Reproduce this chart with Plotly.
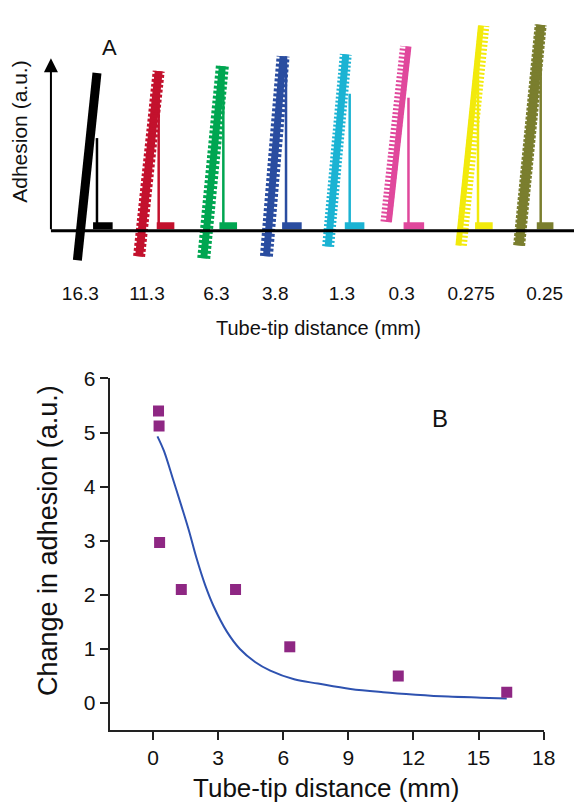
import plotly.graph_objects as go

# ---- panel A: adhesion curves, one per tube-tip distance ----
curve_labels = ['16.3', '11.3', '6.3', '3.8', '1.3', '0.3', '0.275', '0.25']
label_pos = [3.0, 9.8, 16.9, 22.9, 29.7, 35.8, 42.9, 50.4]
curve_colors = ['#000000', '#C3112D', '#00A651', '#2A4DA0',
                '#1BB3D3', '#E0489C', '#F2EA0C', '#7A7E2E']

# approach (contact line), bottom -> top
approach_x0 = [2.7, 9.0, 15.6, 22.0, 28.3, 34.5, 41.6, 47.8]
approach_y0 = [-3.0, -2.6, -2.8, -2.6, -1.6, 0.9, -1.5, -1.5]
approach_x1 = [4.7, 11.0, 17.5, 23.7, 30.1, 36.5, 43.9, 50.0]
approach_y1 = [16.0, 16.2, 16.7, 17.7, 17.9, 18.7, 20.8, 20.9]

# retract: pull-off line and the flat part near zero
retract_x = [4.7, 11.0, 17.6, 24.0, 30.5, 36.5, 43.6, 50.0]
retract_top = [9.4, 13.7, 16.5, 17.7, 13.9, 13.5, 16.7, 18.2]
rest_x0 = [4.3, 10.8, 17.2, 23.6, 30.0, 36.0, 43.3, 49.6]
rest_x1 = [6.3, 12.6, 19.0, 25.6, 32.0, 38.1, 45.1, 51.3]
rest_y = [0.5, 0.5, 0.5, 0.5, 0.5, 0.5, 0.5, 0.5]

# how each band is drawn (solid core + toothed edge)
band_core = [9, 8, 7, 7, 7, 6, 6, 9]
band_teeth = [0, 12, 13, 13, 12, 11, 11, 12]
teeth_dash = [None, '3px,2px', '3px,2px', '3px,2px', '2px,2px', '2px,2px', '2px,2px', '3px,1.5px']
teeth_shift = [0, 0, 0, 0, 0, -0.3, 0.3, 0]

# ---- panel B: change in adhesion vs distance ----
dist_mm = [0.25, 0.275, 0.3, 1.3, 3.8, 6.3, 11.3, 16.3]
adhesion_change = [5.4, 5.12, 2.97, 2.1, 2.1, 1.04, 0.5, 0.2]

fit_x = [0.2, 0.5, 0.9, 1.3, 1.65, 2.0, 2.4, 2.8, 3.4, 4.0, 4.7, 5.4,
         6.5, 7.6, 9.1, 10.6, 12.1, 13.6, 15.1, 16.3]
fit_y = [4.93, 4.66, 4.16, 3.65, 3.19, 2.68, 2.18, 1.78, 1.32, 1.0, 0.76, 0.6,
         0.44, 0.36, 0.26, 0.2, 0.155, 0.12, 0.1, 0.085]

FONT = 'Liberation Sans, Arial, sans-serif'

fig = go.Figure()

for i in range(len(curve_labels)):
    c = curve_colors[i]
    # retract line + flat part
    fig.add_trace(go.Scatter(
        x=[retract_x[i], retract_x[i]], y=[retract_top[i], rest_y[i]],
        mode='lines', line=dict(color=c, width=2.5),
        xaxis='x', yaxis='y', hoverinfo='skip', showlegend=False))
    fig.add_trace(go.Scatter(
        x=[rest_x0[i], rest_x1[i]], y=[rest_y[i], rest_y[i]],
        mode='lines', line=dict(color=c, width=7),
        xaxis='x', yaxis='y', hoverinfo='skip', showlegend=False))
    # approach band
    fig.add_trace(go.Scatter(
        x=[approach_x0[i], approach_x1[i]], y=[approach_y0[i], approach_y1[i]],
        mode='lines', line=dict(color=c, width=band_core[i]),
        xaxis='x', yaxis='y', hoverinfo='skip', showlegend=False))
    if band_teeth[i]:
        s = teeth_shift[i]
        fig.add_trace(go.Scatter(
            x=[approach_x0[i] + s, approach_x1[i] + s],
            y=[approach_y0[i], approach_y1[i]],
            mode='lines',
            line=dict(color=c, width=band_teeth[i], dash=teeth_dash[i]),
            xaxis='x', yaxis='y', hoverinfo='skip', showlegend=False))

fig.add_trace(go.Scatter(
    x=fit_x, y=fit_y, mode='lines', line=dict(color='#2E52B0', width=2, shape='spline'),
    xaxis='x2', yaxis='y2', showlegend=False))
fig.add_trace(go.Scatter(
    x=dist_mm, y=adhesion_change, mode='markers',
    marker=dict(symbol='square', size=11, color='#8E2783'),
    xaxis='x2', yaxis='y2', showlegend=False))


def label(text, px, py, size, angle=0):
    # text placed by pixel position in the 586x804 page
    return dict(x=px / 586, y=1 - py / 804, xref='paper', yref='paper',
                xanchor='center', yanchor='middle', text=text, textangle=angle,
                showarrow=False, font=dict(size=size))


fig.update_layout(
    width=586, height=804,
    margin=dict(l=0, r=0, t=0, b=0),
    paper_bgcolor='white', plot_bgcolor='white',
    font=dict(family=FONT, color='#111111'),
    xaxis=dict(domain=[52 / 586, 1], range=[0, 53.4], anchor='y',
               showgrid=False, zeroline=False, showline=False,
               tickvals=label_pos, ticktext=curve_labels, ticks='',
               tickfont=dict(size=19)),
    yaxis=dict(domain=[1 - 272 / 804, 1], range=[-5.0, 22.2], anchor='x',
               visible=False),
    xaxis2=dict(domain=[112 / 586, 555 / 586], range=[-2, 18], anchor='y2',
                showgrid=False, zeroline=False, showline=True, linewidth=2,
                linecolor='#222', ticks='outside', ticklen=8, tickwidth=2,
                tickcolor='#222', tickvals=[0, 3, 6, 9, 12, 15, 18],
                tickfont=dict(size=21)),
    yaxis2=dict(domain=[1 - 729 / 804, 1 - 372 / 804], range=[-0.5, 6], anchor='x2',
                showgrid=False, zeroline=False, showline=True, linewidth=2,
                linecolor='#222', ticks='outside', ticklen=8, tickwidth=2,
                tickcolor='#222', dtick=1, tickfont=dict(size=21)),
    shapes=[dict(type='line', xref='x domain', x0=0, x1=1, yref='y', y0=0, y1=0,
                 line=dict(color='black', width=3), layer='above')],
    annotations=[
        dict(x=0, y=17.5, ax=0, ay=0, xref='x', yref='y', axref='x', ayref='y',
             text='', showarrow=True, arrowhead=2, arrowsize=1.4, arrowwidth=2,
             arrowcolor='black'),
        label('Adhesion (a.u.)', 20, 122, 21, angle=-90),
        label('Tube-tip distance (mm)', 325, 321, 20),
        label('A', 112, 36, 22),
        label('B', 449, 413, 24),
        label('Change in adhesion (a.u.)', 49, 536, 27, angle=-90),
        label('Tube-tip distance (mm)', 333, 788, 26),
    ],
)

fig.write_html('out.html', config={'displayModeBar': False},
               post_script="document.documentElement.style.overflow='hidden';"
                           "document.body.style.margin='0px';"
                           "document.body.style.overflow='hidden';")
